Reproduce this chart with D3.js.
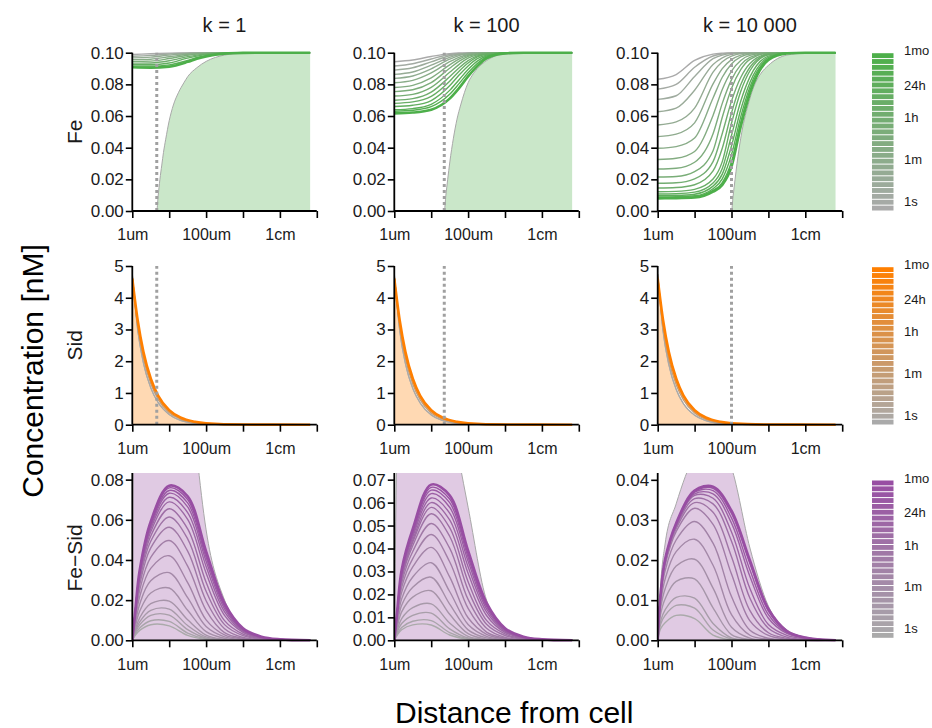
<!DOCTYPE html>
<html><head><meta charset="utf-8">
<script src="https://cdn.jsdelivr.net/npm/d3@7"></script>
<style>
body{margin:0;background:#fff}
text{font-family:"Liberation Sans",Arial,Helvetica,sans-serif}
</style>
</head><body><svg id="c" width="932" height="728"></svg>
<script>
// ---------------- data ----------------
const kLabels = ["k = 1", "k = 100", "k = 10 000"];
const rowLabels = ["Fe", "Sid", "Fe\u2212Sid"];
const rowColors = ["#4daf4a", "#ff7f00", "#984ea3"];
const earlyColor = "#aaaaaa";
const xTickValues = [1, 10, 100, 1000, 10000, 100000];
const xTickNames = ["1um", "", "100um", "", "1cm", ""];
const legendTimeLabels = ["1s", "1m", "1h", "24h", "1mo"];
const legendTimeSeconds = [1, 60, 3600, 86400, 2592000];
const legendDomainSeconds = [0.42, 2.37e6];
const legendSteps = 27;
const dashedUm = [4.6, 22.6, 100];

const feYTicks = [0, 0.02, 0.04, 0.06, 0.08, 0.10];
const sidYTicks = [0, 1, 2, 3, 4, 5];
const fesidYTicksK1 = [0, 0.02, 0.04, 0.06, 0.08];
const fesidYTicksK100 = [0, 0.01, 0.02, 0.03, 0.04, 0.05, 0.06, 0.07];
const fesidYTicksK10000 = [0, 0.01, 0.02, 0.03, 0.04];
const feYMax = 0.1, sidYMax = 5;
const fesidYMax = [0.0833, 0.0729, 0.0417];

// distance grids (um)
const feX = [1, 3.162, 10, 31.62, 56.23, 100, 177.8, 316.2, 1000, 3162, 10000, 66000];
const sidX = [1, 1.4, 2, 3.2, 5, 10, 20, 50, 100, 1000, 66000];
const fesidX = [1, 1.202, 1.585, 3.162, 10, 31.62, 100, 316.2, 1000, 3162, 10000, 66000];

// Fe, k = 1 (earliest -> latest)
const feK1 = [
 [.0989,.0993,.0997,.0999,.1,.1,.1,.1,.1,.1,.1,.1],
 [.0978,.0983,.0992,.0997,.0999,.1,.1,.1,.1,.1,.1,.1],
 [.0967,.0972,.0985,.0995,.0997,.0999,.1,.1,.1,.1,.1,.1],
 [.0956,.0959,.0974,.099,.0995,.0997,.0999,.1,.1,.1,.1,.1],
 [.0945,.0947,.0963,.0984,.0991,.0996,.0998,.0999,.1,.1,.1,.1],
 [.0934,.0935,.0949,.0975,.0985,.0992,.0996,.0998,.1,.1,.1,.1],
 [.0924,.0924,.0935,.0966,.0978,.0988,.0994,.0997,.1,.1,.1,.1],
 [.0915,.0915,.0923,.0951,.097,.0982,.0991,.0996,.0999,.1,.1,.1],
 [.0908,.0906,.0912,.0942,.0962,.0976,.0987,.0994,.0999,.1,.1,.1]
];
// Fe, k = 100
const feK100 = [
 [.0943,.0954,.0976,.0994,.0998,.0999,.1,.1,.1,.1,.1,.1],
 [.0916,.0930,.0960,.0989,.0995,.0998,.1,.1,.1,.1,.1,.1],
 [.0890,.0905,.0942,.0981,.0992,.0997,.0999,.1,.1,.1,.1,.1],
 [.0863,.0878,.0921,.0971,.0988,.0996,.0999,.1,.1,.1,.1,.1],
 [.0838,.0853,.0898,.0959,.0982,.0993,.0998,.0999,.1,.1,.1,.1],
 [.0810,.0825,.0872,.0943,.0971,.0989,.0996,.0999,.1,.1,.1,.1],
 [.0780,.0794,.0841,.0923,.0959,.0983,.0994,.0998,.1,.1,.1,.1],
 [.0754,.0766,.0811,.0902,.0945,.0977,.0991,.0998,.1,.1,.1,.1],
 [.0726,.0737,.0781,.0876,.0925,.0965,.0986,.0995,.1,.1,.1,.1],
 [.0700,.0710,.0751,.0848,.0903,.0950,.0980,.0993,.1,.1,.1,.1],
 [.0680,.0689,.0724,.0820,.0882,.0935,.0973,.0990,.0999,.1,.1,.1],
 [.0660,.0668,.0698,.0791,.0857,.0916,.0962,.0985,.0999,.1,.1,.1],
 [.0640,.0647,.0674,.0762,.0828,.0894,.0947,.0979,.0998,.1,.1,.1],
 [.0630,.0636,.0659,.0737,.0803,.0873,.0932,.0972,.0997,.1,.1,.1],
 [.0617,.0622,.0640,.0710,.0775,.0850,.0915,.0965,.0996,.1,.1,.1]
];
// Fe, k = 10 000
const feK10000 = [
 [.0832,.0862,.0951,.0991,.0997,.0999,.1,.1,.1,.1,.1,.1],
 [.0770,.0800,.0908,.0979,.0992,.0998,.0999,.1,.1,.1,.1,.1],
 [.0705,.0728,.0850,.0962,.0985,.0996,.0999,.1,.1,.1,.1,.1],
 [.0627,.0650,.0763,.0926,.0968,.0989,.0997,.0999,.1,.1,.1,.1],
 [.0543,.0563,.0650,.0877,.0943,.0978,.0994,.0998,.1,.1,.1,.1],
 [.0470,.0486,.0557,.0803,.0899,.0956,.0985,.0996,.1,.1,.1,.1],
 [.0396,.0407,.0461,.0714,.0845,.0929,.0973,.0992,.0999,.1,.1,.1],
 [.0325,.0333,.0376,.0604,.0768,.0884,.0951,.0983,.0999,.1,.1,.1],
 [.0265,.0270,.0308,.0488,.0680,.0830,.0923,.0971,.0998,.1,.1,.1],
 [.0215,.0218,.0249,.0381,.0592,.0774,.0893,.0958,.0997,.1,.1,.1],
 [.0175,.0178,.0203,.0312,.0490,.0694,.0843,.0932,.0993,.1,.1,.1],
 [.0145,.0148,.0166,.0253,.0396,.0620,.0797,.0908,.0990,.0999,.1,.1],
 [.0122,.0124,.0137,.0202,.0312,.0554,.0755,.0886,.0987,.0999,.1,.1],
 [.0107,.0109,.0119,.0177,.0269,.0477,.0693,.0847,.0978,.0998,.1,.1],
 [.0096,.0098,.0106,.0157,.0233,.0411,.0640,.0812,.0970,.0998,.1,.1],
 [.0088,.0090,.0096,.0141,.0203,.0356,.0595,.0784,.0963,.0997,.1,.1],
 [.0083,.0084,.0089,.0130,.0180,.0312,.0559,.0761,.0958,.0997,.1,.1],
 [.0080,.0081,.0085,.0122,.0164,.0280,.0533,.0743,.0954,.0996,.1,.1]
];
// Fe shaded profiles (own distance grids)
const feFillXK1 = [1, 4.6, 5, 5.6, 6.3, 7, 8, 10, 13, 18, 25, 32, 56, 100, 178, 316, 1000, 66000];
const feFillYK1 = [0, 0, .009, .020, .029, .037, .045, .057, .067, .075, .081, .085, .0905, .0945, .097, .0985, .0996, .1];
const feFillXK100 = [1, 22.6, 25, 28, 32, 40, 50, 63, 80, 100, 141, 178, 316, 562, 1000, 3162, 66000];
const feFillYK100 = [0, 0, .010, .020, .031, .046, .058, .067, .075, .081, .087, .090, .095, .098, .099, .0998, .1];
const feFillXK10000 = [1, 100, 110, 125, 141, 178, 224, 282, 355, 447, 631, 1000, 3162, 10000, 66000];
const feFillYK10000 = [0, 0, .009, .020, .030, .046, .058, .067, .075, .081, .087, .092, .0985, .0997, .1];

// Sid
const sidK1 = [
 [4.72,3.00,1.95,1.15,0.70,0.32,0.14,0.045,0.018,0.001,0],
 [4.68,3.10,2.10,1.28,0.80,0.38,0.18,0.065,0.030,0.002,0],
 [4.64,3.20,2.20,1.38,0.87,0.43,0.21,0.083,0.040,0.004,0],
 [4.60,3.29,2.30,1.44,0.92,0.46,0.23,0.092,0.046,0.0046,0]
];
const sidK100 = [
 [4.72,2.98,1.93,1.13,0.69,0.31,0.135,0.043,0.017,0.001,0],
 [4.68,3.09,2.08,1.27,0.79,0.37,0.175,0.063,0.029,0.002,0],
 [4.64,3.19,2.19,1.37,0.86,0.42,0.205,0.081,0.039,0.004,0],
 [4.60,3.29,2.30,1.44,0.92,0.46,0.23,0.092,0.046,0.0046,0]
];
const sidK10000 = [
 [4.75,2.95,1.90,1.10,0.66,0.30,0.13,0.040,0.016,0.001,0],
 [4.70,3.05,2.05,1.25,0.78,0.37,0.17,0.060,0.028,0.002,0],
 [4.65,3.18,2.18,1.36,0.86,0.42,0.20,0.080,0.038,0.004,0],
 [4.60,3.29,2.30,1.44,0.92,0.46,0.23,0.092,0.046,0.0046,0]
];

// Fe-Sid
const fesidK1 = [
 [0,.00244,.00493,.00776,.0072,.00248,.00046,.00005,0,0,0,0],
 [0,.0030,.00611,.00973,.00941,.00362,.00069,.00011,.00001,0,0,0],
 [0,.00374,.0077,.0124,.0125,.00527,.00104,.0002,.00003,0,0,0],
 [0,.00442,.00921,.01492,.01548,.00734,.00168,.00031,.00006,0,0,0],
 [0,.00531,.0112,.01822,.0195,.01023,.0026,.00047,.00009,0,0,0],
 [0,.00678,.01442,.02357,.02603,.01496,.00432,.00099,.00015,0,0,0],
 [0,.00835,.018,.0296,.0337,.0212,.00687,.00173,.00032,.00007,0,0],
 [0,.0099,.0217,.0358,.0421,.0287,.0102,.0027,.00062,.00014,0,0],
 [0,.01125,.0249,.0413,.0497,.0369,.01495,.00385,.00098,.00023,0,0],
 [0,.0123,.0276,.046,.0563,.0444,.0197,.00576,.00141,.00032,0,0],
 [0,.013,.0295,.0493,.0614,.0505,.0244,.0078,.00234,.00054,.0001,0],
 [0,.0135,.0309,.0519,.0655,.0555,.0289,.0098,.00313,.00081,.00022,0],
 [0,.0138,.032,.054,.0689,.0602,.0335,.0124,.00397,.0011,.00029,0],
 [0,.0141,.0329,.0555,.0712,.0636,.0368,.0142,.00458,.0013,.00034,0],
 [0,.0143,.0335,.0567,.0732,.0664,.0394,.0157,.00506,.00147,.00039,0],
 [0,.0145,.034,.0577,.0746,.0684,.0413,.0168,.0054,.0016,.00042,0],
 [0,.0146,.0345,.0584,.0759,.0701,.0429,.0177,.0057,.00172,.00044,0],
 [0,.0147,.0349,.0592,.077,.0717,.0443,.0185,.006,.0018,.00047,0]
];
const fesidK100 = [
 [0,.00226,.00458,.0067,.00668,.0023,.00043,.00005,0,0,0,0],
 [0,.00274,.00558,.0083,.0086,.00331,.00063,.0001,.00001,0,0,0],
 [0,.00355,.0073,.0109,.01185,.005,.00099,.00019,.00003,0,0,0],
 [0,.00453,.00943,.0142,.01585,.00752,.00172,.00032,.00006,0,0,0],
 [0,.00588,.0124,.0188,.02159,.01132,.00288,.00052,.0001,0,0,0],
 [0,.00716,.01523,.0231,.02749,.0158,.00456,.00105,.00016,0,0,0],
 [0,.00838,.01805,.0276,.0338,.02126,.00689,.00174,.00032,.00007,0,0],
 [0,.00952,.02088,.032,.0405,.02761,.00981,.0026,.0006,.00013,0,0],
 [0,.01044,.02311,.0356,.04612,.03424,.01387,.00357,.00091,.00021,0,0],
 [0,.01112,.02495,.0387,.0509,.04014,.01781,.00521,.00127,.00029,0,0],
 [0,.01167,.02649,.0412,.05514,.04535,.02191,.007,.0021,.00048,.00009,0],
 [0,.01193,.02732,.0427,.0579,.04906,.02555,.00866,.00277,.00072,.00019,0],
 [0,.01202,.02787,.0437,.06001,.05243,.02918,.0108,.00346,.00096,.00025,0],
 [0,.01228,.02866,.045,.06202,.0554,.03205,.01237,.00399,.00113,.0003,0],
 [0,.01248,.02925,.046,.0639,.05797,.0344,.01371,.00442,.00128,.00034,0],
 [0,.01272,.02982,.0471,.06542,.05999,.03622,.01473,.00474,.0014,.00037,0],
 [0,.01282,.03029,.0477,.06664,.06155,.03767,.01554,.005,.00151,.00039,0],
 [0,.01295,.03075,.0485,.06784,.06317,.03903,.0163,.00529,.00159,.00041,0]
];
const fesidK10000 = [
 [0,.0029,.0044,.0062,.0054,.0013,.00012,0,0,0,0,0],
 [0,.004,.0062,.0087,.008,.00256,.00032,.00001,0,0,0,0],
 [0,.0048,.0076,.0107,.0105,.0042,.00059,.00008,0,0,0,0],
 [0,.0065,.0103,.0147,.0153,.0081,.00143,.00022,0,0,0,0],
 [0,.008,.0128,.0185,.0202,.013,.00327,.00055,.00006,0,0,0],
 [0,.0093,.0152,.0221,.0252,.0187,.0064,.00126,.00026,0,0,0],
 [0,.0104,.0173,.025,.0296,.0242,.0109,.00252,.0005,.00006,0,0],
 [0,.0112,.0187,.0271,.0329,.0289,.0165,.00483,.00121,.0003,0,0],
 [0,.0114,.0192,.0278,.0343,.0319,.0208,.0074,.00188,.0005,0,0],
 [0,.0115,.0196,.0283,.0353,.034,.0247,.0105,.003,.00079,.0002,0],
 [0,.0116,.0199,.0287,.0361,.0354,.027,.0129,.00393,.00124,.00037,0],
 [0,.0116,.0199,.0288,.0365,.0365,.0292,.0159,.0055,.00171,.00051,0],
 [0,.0116,.0201,.029,.0369,.0373,.0305,.0175,.0064,.00196,.00059,0],
 [0,.0116,.0201,.0291,.0371,.0379,.0316,.0191,.0073,.00222,.00066,0],
 [0,.0117,.0202,.0292,.0373,.0383,.0323,.0199,.0078,.00233,.0007,0]
];
const fesidFillK1 = [0,.3,.4,.35,.25,.14,.055,.02,.006,.0018,.0005,0];
const fesidFillK100 = [0,.09,.13,.15,.14,.1,.058,.0175,.0055,.0016,.0004,0];
const fesidFillK10000 = [0,.014,.024,.034,.046,.05,.043,.023,.0085,.0026,.0008,0];

// ---------------- layout ----------------
const colX0 = [132.3, 394.3, 657.7];
const panelW = 184.5;
const rowTop = [52.7, 266, 473];
const rowBottom = [211, 424.7, 640.3];
const legendTop = [52.7, 266.7, 480];
const legendH = 158.3;
const legendX = 872, legendW = 21.5;

const panels = [];
const feLines = [feK1, feK100, feK10000];
const feFillX = [feFillXK1, feFillXK100, feFillXK10000];
const feFillY = [feFillYK1, feFillYK100, feFillYK10000];
const sidLines = [sidK1, sidK100, sidK10000];
const fesidLines = [fesidK1, fesidK100, fesidK10000];
const fesidFill = [fesidFillK1, fesidFillK100, fesidFillK10000];
const fesidTicks = [fesidYTicksK1, fesidYTicksK100, fesidYTicksK10000];
for (let c = 0; c < 3; c++) {
  panels.push({row:0, col:c, xs:feX, lines:feLines[c], fx:feFillX[c], fy:feFillY[c], ymax:feYMax, ticks:feYTicks, fmt:d3.format(".2f"), dashed:true});
  panels.push({row:1, col:c, xs:sidX, lines:sidLines[c], fx:sidX, fy:sidLines[c][0], ymax:sidYMax, ticks:sidYTicks, fmt:d3.format("d"), dashed:true});
  panels.push({row:2, col:c, xs:fesidX, lines:fesidLines[c], fx:fesidX, fy:fesidFill[c], ymax:fesidYMax[c], ticks:fesidTicks[c], fmt:d3.format(".2f"), dashed:false});
}

const svg = d3.select("#c");
const defs = svg.append("defs");

panels.forEach((p, i) => {
  const x0 = colX0[p.col], top = rowTop[p.row], bottom = rowBottom[p.row];
  const x = d3.scaleLog().domain([1, 1e5]).range([x0, x0 + panelW]);
  const y = d3.scaleLinear().domain([0, p.ymax]).range([bottom, top]);
  const color = rowColors[p.row];
  const interp = d3.interpolateRgb(earlyColor, color);
  const fillColor = d3.interpolateRgb("#ffffff", color)(0.3);
  const extra = p.row === 2 ? 0 : 3;
  defs.append("clipPath").attr("id", "clip" + i).append("rect")
    .attr("x", x0).attr("y", top - extra).attr("width", panelW).attr("height", bottom - top + extra + 3);
  const g = svg.append("g");
  const plot = g.append("g").attr("clip-path", `url(#clip${i})`);

  // shaded profile
  const fillPts = p.fx.map((d, j) => [d, p.fy[j]]);
  const area = d3.area().x(d => x(d[0])).y0(y(0)).y1(d => y(d[1])).curve(d3.curveMonotoneX);
  const edge = d3.line().x(d => x(d[0])).y(d => y(d[1])).curve(d3.curveMonotoneX);
  plot.append("path").attr("d", area(fillPts)).attr("fill", fillColor).attr("stroke", "none");
  plot.append("path").attr("d", edge(fillPts)).attr("fill", "none").attr("stroke", "#a8a8a8").attr("stroke-width", 1);

  if (p.dashed) {
    g.append("line").attr("x1", x(dashedUm[p.col])).attr("x2", x(dashedUm[p.col]))
      .attr("y1", y(0)).attr("y2", y(p.ymax))
      .attr("stroke", "#a0a0a0").attr("stroke-width", 3).attr("stroke-dasharray", "3,3");
  }

  const curve = p.row === 2 ? d3.curveCatmullRom.alpha(0.5) : d3.curveMonotoneX;
  const line = d3.line().x(d => x(d[0])).y(d => y(d[1])).curve(curve);
  const n = p.lines.length;
  p.lines.forEach((vals, j) => {
    const pts = p.xs.map((d, k) => [d, vals[k]]);
    const last = j === n - 1;
    plot.append("path").attr("d", line(pts)).attr("fill", "none")
      .attr("stroke", interp(n > 1 ? j / (n - 1) : 1))
      .attr("stroke-width", last ? 2.6 : 1.4)
      .attr("stroke-linejoin", "round");
  });

  // axes
  const xAxis = d3.axisBottom(x).tickValues(xTickValues)
    .tickFormat(d => xTickNames[xTickValues.indexOf(d)]).tickSize(7).tickPadding(11).tickSizeOuter(0);
  const gx = g.append("g").attr("transform", `translate(0,${bottom})`).call(xAxis);
  const yAxis = d3.axisLeft(y).tickValues(p.ticks).tickFormat(p.fmt).tickSize(6.5).tickPadding(2).tickSizeOuter(0);
  const gy = g.append("g").attr("transform", `translate(${x0},0)`).call(yAxis);
  [gx, gy].forEach(a => {
    a.select(".domain").attr("stroke", "#000").attr("stroke-width", 1.8);
    a.selectAll(".tick line").attr("stroke", "#000").attr("stroke-width", 1.6);
    a.selectAll(".tick text").attr("fill", "#1a1a1a");
  });
  gx.selectAll(".tick text").style("font-size", "16px");
  gy.selectAll(".tick text").style("font-size", "17px");
  gy.select(".domain").attr("d", `M0,${bottom}V${top}`);
  gx.select(".domain").attr("d", `M${x0},0H${x0 + panelW}`);
});

// column titles
kLabels.forEach((t, c) => {
  svg.append("text").attr("x", colX0[c] + panelW / 2).attr("y", 32)
    .attr("text-anchor", "middle").style("font-size", "20px").attr("fill", "#1a1a1a").text(t);
});
// row labels
rowLabels.forEach((t, r) => {
  const cy = r === 2 ? 558 : (rowTop[r] + rowBottom[r]) / 2;
  svg.append("text").attr("transform", `translate(82,${cy}) rotate(-90)`)
    .attr("text-anchor", "middle").style("font-size", "21px").attr("fill", "#1a1a1a").text(t);
});
// big axis titles
svg.append("text").attr("transform", "translate(43,371) rotate(-90)")
  .attr("text-anchor", "middle").style("font-size", "30px").attr("fill", "#000").text("Concentration [nM]");
svg.append("text").attr("x", 395).attr("y", 723)
  .attr("text-anchor", "start").style("font-size", "30px").attr("fill", "#000").text("Distance from cell");

// legends
rowColors.forEach((col, r) => {
  const top = legendTop[r];
  const ls = d3.scaleLog().domain(legendDomainSeconds).range([top + legendH, top]);
  const interp = d3.interpolateRgb(earlyColor, col);
  const step = legendH / legendSteps;
  const bars = d3.range(legendSteps);
  svg.append("g").selectAll("rect").data(bars).join("rect")
    .attr("x", legendX).attr("width", legendW)
    .attr("y", i => top + legendH - (i + 1) * step + 0.5)
    .attr("height", step - 1)
    .attr("fill", i => interp(i / (legendSteps - 1)));
  legendTimeLabels.forEach((lab, k) => {
    svg.append("text").attr("x", 904).attr("y", ls(legendTimeSeconds[k]))
      .attr("dominant-baseline", "middle").style("font-size", "13px").attr("fill", "#1a1a1a").text(lab);
  });
});
</script>
</body></html>
